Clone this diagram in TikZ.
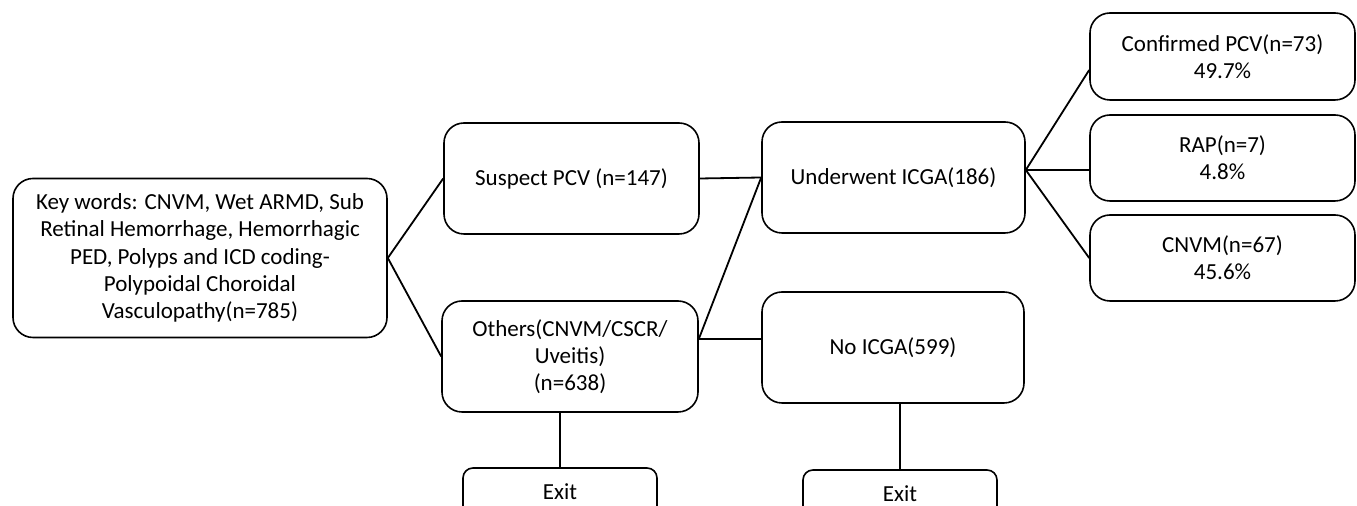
\documentclass[tikz,border=0pt]{standalone}
\usepackage{fontspec}
\setmainfont{Carlito}
\begin{document}
\begin{tikzpicture}[x=0.5pt,y=-0.5pt,
    box/.style={draw, line width=0.8pt, rounded corners=10pt, align=center, inner sep=0pt,
        font=\fontsize{11.5}{13.6}\selectfont},
    exitbox/.style={box, rounded corners=5pt, minimum width=97pt, minimum height=24pt},
    link/.style={line width=0.9pt}]
    \useasboundingbox (0,0) rectangle (1357,506);
    \node [box, minimum width=187pt, minimum height=79.5pt] (key) at (200,258)
        {Key words: CNVM, Wet ARMD, Sub\\Retinal Hemorrhage, Hemorrhagic\\PED, Polyps and ICD coding-\\Polypoidal Choroidal\\Vasculopathy(n=785)};
    \node [box, minimum width=127.5pt, minimum height=55.5pt] (sus) at (571.5,178.5) {Suspect PCV (n=147)};
    \node [box, minimum width=128pt, minimum height=55.5pt] (oth) at (570,356.5) {Others(CNVM/CSCR/\\Uveitis)\\(n=638)};
    \node [box, minimum width=131.5pt, minimum height=55.5pt] (ug) at (893.5,177.5) {Underwent ICGA(186)};
    \node [box, minimum width=131pt, minimum height=55.5pt] (noicga) at (893,347.5) {No ICGA(599)};
    \node [box, minimum width=132.5pt, minimum height=43.5pt] (conf) at (1222.5,56.5) {Confirmed PCV(n=73)\\49.7\%};
    \node [box, minimum width=132.5pt, minimum height=43pt] (rap) at (1222.5,158) {RAP(n=7)\\4.8\%};
    \node [box, minimum width=132.5pt, minimum height=43pt] (cnvm) at (1222.5,258) {CNVM(n=67)\\45.6\%};
    \node [exitbox] (exita) at (560,492) {Exit};
    \node [exitbox] (exitb) at (900,494) {Exit};

    \coordinate (oj) at ([yshift=8.75pt]oth.east);
    \coordinate (uj) at ([yshift=3.75pt]ug.east);
    \draw [link] (key.east) -- (sus.west);
    \draw [link] (key.east) -- (oth.west);
    \draw [link] (sus.east) -- (ug.west);
    \draw [link] (oj) -- (ug.west);
    \draw [link] (oj) -- (oj -| noicga.west);
    \draw [link] (uj) -- ([yshift=-6.75pt]conf.west);
    \draw [link] (uj) -- (uj -| rap.west);
    \draw [link] (uj) -- (cnvm.west);
    \draw [link] (exita.north |- oth.south) -- (exita.north);
    \draw [link] (exitb.north |- noicga.south) -- (exitb.north);
\end{tikzpicture}
\end{document}
